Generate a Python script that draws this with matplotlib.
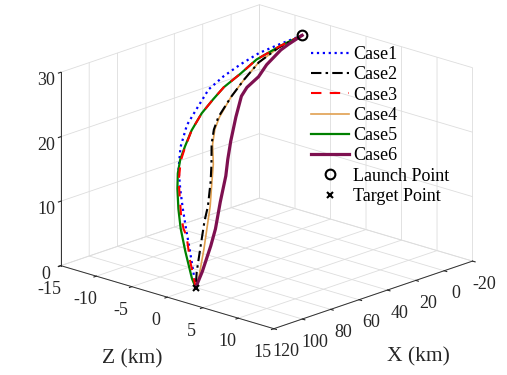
import matplotlib
matplotlib.use('Agg')
import matplotlib.pyplot as plt

plt.rcParams['font.family'] = ['Liberation Serif', 'DejaVu Serif']
plt.rcParams['axes.unicode_minus'] = False
plt.rcParams['grid.color'] = '#dddddd'
plt.rcParams['grid.linewidth'] = 0.6

# ---------------- data (X = downrange, Y = altitude, Z = crossrange; km) ----------------
launch = (0.0, 30.0, -5.0)     # X, Y, Z
target = (100.0, 0.0, 0.0)

case1_x = [0.0, 16.7, 30.8, 44.3, 56.9, 68.4, 79.5, 87.2, 93.7, 97.6, 98.9, 99.6, 99.8, 99.6, 99.7, 100.0]
case1_y = [30.0, 29.8, 29.6, 28.9, 28.0, 26.9, 24.6, 23.0, 20.2, 17.3, 14.4, 11.6, 8.6, 6.0, 2.3, 0.0]
case1_z = [-5.0, -5.0, -4.9, -4.8, -4.7, -4.5, -4.1, -3.8, -3.4, -2.9, -2.4, -1.9, -1.4, -1.0, -0.4, 0.0]

case2_x = [0.0, 17.1, 32.1, 44.0, 54.7, 65.0, 69.7, 72.8, 75.4, 78.0, 82.4, 86.3, 92.0, 97.3, 100.0]
case2_y = [30.0, 29.4, 28.3, 26.6, 24.8, 22.6, 21.1, 19.2, 16.4, 14.0, 10.7, 8.8, 5.6, 2.1, 0.0]
case2_z = [-5.0, -4.9, -4.7, -4.4, -4.1, -3.8, -3.5, -3.2, -2.7, -2.3, -1.8, -1.5, -0.9, -0.4, 0.0]

case3_x = [0.0, 15.5, 33.1, 45.3, 58.2, 66.9, 75.8, 84.4, 91.0, 95.6, 99.0, 101.3, 101.1, 100.0, 100.5, 100.0]
case3_y = [30.0, 29.6, 28.8, 27.6, 26.5, 25.3, 23.9, 22.0, 20.0, 18.3, 15.5, 10.6, 8.7, 7.6, 4.0, 0.0]
case3_z = [-5.0, -4.9, -4.8, -4.6, -4.4, -4.2, -4.0, -3.7, -3.3, -3.0, -2.6, -1.8, -1.5, -1.3, -0.7, 0.0]

case4_x = [0.0, 17.1, 32.1, 44.0, 54.7, 64.3, 69.0, 72.1, 74.1, 77.1, 80.8, 84.6, 90.2, 96.6, 100.0]
case4_y = [30.0, 29.4, 28.3, 26.6, 24.8, 22.5, 21.1, 19.1, 16.3, 13.9, 10.6, 8.3, 5.0, 1.5, 0.0]
case4_z = [-5.0, -4.9, -4.7, -4.4, -4.1, -3.8, -3.5, -3.2, -2.7, -2.3, -1.8, -1.4, -0.8, -0.2, 0.0]

case5_x = [0.0, 15.5, 33.1, 45.3, 58.2, 66.9, 75.8, 84.4, 90.5, 95.4, 98.6, 100.9, 102.2, 103.1, 102.8, 101.6, 100.0]
case5_y = [30.0, 29.6, 28.8, 27.6, 26.5, 25.3, 23.9, 22.0, 20.1, 18.5, 16.7, 14.6, 11.7, 8.9, 5.5, 1.4, 0.0]
case5_z = [-5.0, -4.9, -4.8, -4.6, -4.4, -4.2, -4.0, -3.7, -3.4, -3.1, -2.8, -2.4, -2.0, -1.5, -0.9, -0.2, 0.0]

case6_x = [0.0, 10.1, 16.0, 27.0, 33.7, 42.9, 47.3, 53.7, 59.8, 63.9, 67.3, 73.7, 80.1, 85.4, 93.9, 100.0]
case6_y = [30.0, 29.4, 29.0, 27.6, 26.3, 25.4, 24.4, 21.8, 18.7, 16.3, 14.1, 10.7, 7.2, 5.1, 1.9, 0.0]
case6_z = [-5.0, -4.9, -4.8, -4.6, -4.4, -4.2, -4.1, -3.6, -3.1, -2.7, -2.3, -1.8, -1.2, -0.8, -0.3, 0.0]

x_ticks = [-20, 0, 20, 40, 60, 80, 100, 120]
z_ticks = [-15, -10, -5, 0, 5, 10, 15]
y_ticks = [0, 10, 20, 30]
labels = ['Case1', 'Case2', 'Case3', 'Case4', 'Case5', 'Case6', 'Launch Point', 'Target Point']

# ---------------- figure ----------------
fig = plt.figure(figsize=(5.07, 3.75), dpi=100)
ax = fig.add_axes([0.016, 0.042, 1.0, 1.0], projection='3d')
ax.computed_zorder = False
ax.set_proj_type('ortho')
ax.view_init(elev=18.5, azim=43)
ax.set_box_aspect((1, 1, 0.70), zoom=1.19)

styles = [
    dict(color='#0000ff', ls=':', lw=1.6, zorder=2.0),
    dict(color='black', ls='-.', lw=1.5, dashes=(5, 2, 1.2, 2), zorder=2.3),
    dict(color='#ff0000', ls='--', lw=1.5, dashes=(5, 4), zorder=2.4),
    dict(color='#e0a050', ls='-', lw=1.2, zorder=2.1),
    dict(color='#008000', ls='-', lw=1.6, zorder=2.2),
    dict(color='#7e1050', ls='-', lw=2.3, zorder=2.5),
]
series = [(case1_x, case1_y, case1_z), (case2_x, case2_y, case2_z),
          (case3_x, case3_y, case3_z), (case4_x, case4_y, case4_z),
          (case5_x, case5_y, case5_z), (case6_x, case6_y, case6_z)]
handles = []
for (xs, ys, zs), st, lab in zip(series, styles, labels):
    h, = ax.plot(xs, zs, ys, label=lab, solid_joinstyle='round', **st)
    handles.append(h)

h7, = ax.plot([launch[0]], [launch[2]], [launch[1]], 'o', mfc='none', mec='black',
              mew=1.5, ms=7, ls='none', label=labels[6], zorder=3)
h8, = ax.plot([target[0]], [target[2]], [target[1]], 'x', color='black',
              mew=1.5, ms=5, ls='none', label=labels[7], zorder=3)
handles += [h7, h8]

ax.set_xlim(-20, 120)
ax.set_ylim(-15, 15)
ax.set_zlim(0, 30)
ax.set_xticks(x_ticks)
ax.set_yticks(z_ticks)
ax.set_zticks(y_ticks)

for axis in (ax.xaxis, ax.yaxis, ax.zaxis):
    axis.set_pane_color((1, 1, 1, 0))
    axis.pane.set_edgecolor('#303030')
    axis.pane.set_linewidth(0.7)
    axis.line.set_color('#303030')
    axis.line.set_linewidth(0.7)
    axis._axinfo['grid'].update(color='#dddddd', linewidth=0.6)
    axis._axinfo['tick'].update(inward_factor=0.15, outward_factor=0.0)
    axis.set_tick_params(labelsize=13, colors='#262626', pad=0)
ax.zaxis.set_tick_params(pad=-3)

# vertical axis title stays attached to the 3D axis
ax.set_zlabel('Y (km)', fontsize=15.5, labelpad=8)
ax.zaxis.set_rotate_label(False)
ax.zaxis.label.set_rotation(90)
# horizontal axis titles placed as in the reference (MATLAB-style, unrotated)
fig.text(418 / 507, 1 - 357 / 375, 'X (km)', fontsize=15.5, ha='center', va='center', color='#262626')
fig.text(132 / 507, 1 - 359 / 375, 'Z (km)', fontsize=15.5, ha='center', va='center', color='#262626')

fig.legend(handles=handles, loc='upper left', bbox_to_anchor=(0.614, 0.877),
           frameon=False, fontsize=13, handlelength=2.1, handletextpad=0.2,
           labelspacing=0.18, borderpad=0.0, borderaxespad=0.0)

fig.savefig('out.png', dpi=100)
